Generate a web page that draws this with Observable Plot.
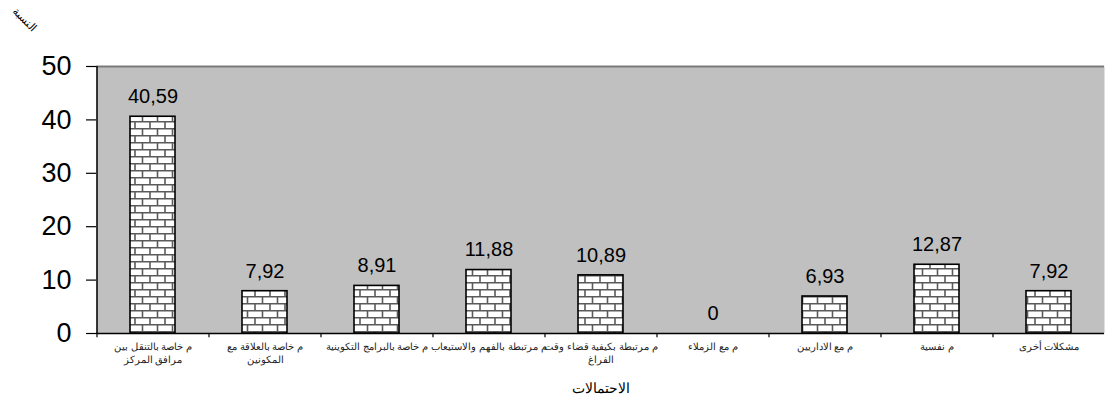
<!DOCTYPE html>
<html>
<head>
<meta charset="utf-8">
<script src="https://cdn.jsdelivr.net/npm/d3@7"></script>
<script src="https://cdn.jsdelivr.net/npm/@observablehq/plot@0.6"></script>
<style>
  html, body { margin: 0; padding: 0; background: white; }
  svg { display: block; }
</style>
</head>
<body>
<div id="chart"></div>
<script>
const categories = [
  "م خاصة بالتنقل بين\nمرافق المركز",
  "م خاصة بالعلاقة مع\nالمكونين",
  "م خاصة بالبرامج التكوينية",
  "م مرتبطة بالفهم والاستيعاب",
  "م مرتبطة بكيفية قضاء وقت\nالفراغ",
  "م مع الزملاء",
  "م مع الاداريين",
  "م نفسية",
  "مشكلات أخرى"
];
const values = [40.59, 7.92, 8.91, 11.88, 10.89, 0, 6.93, 12.87, 7.92];
const yTicks = [0, 10, 20, 30, 40, 50];
const xTitle = "الاحتمالات";
const yTitle = "النسبة";

const data = categories.map((c, i) => ({category: c, value: values[i]}));
const fmt = v => v === 0 ? "0" : v.toFixed(2).replace(".", ",");

const W = 1108, H = 409, ML = 96, MR = 4, MT = 66, MB = 76;
const step = (W - ML - MR) / categories.length;

const plot = Plot.plot({
  width: W, height: H,
  marginLeft: ML, marginRight: MR, marginTop: MT, marginBottom: MB,
  style: {fontFamily: "'Liberation Sans', Arial, sans-serif", background: "white", color: "black", overflow: "visible"},
  x: {domain: categories, paddingInner: 0.6, paddingOuter: 0.3, align: 0.5, axis: null},
  y: {domain: [0, 50], axis: null},
  marks: [
    Plot.frame({fill: "#c0c0c0", stroke: "none"}),
    Plot.ruleY([50], {stroke: "#7a7a7a", strokeWidth: 2}),
    Plot.barY(data, {x: "category", y: "value", fill: "url(#brick)", stroke: "black", strokeWidth: 1.6}),
    Plot.text(data, {x: "category", y: "value", text: d => fmt(d.value), dy: -20, fontSize: 20, fill: "black"}),
    Plot.ruleY([0], {stroke: "black", strokeWidth: 1.5}),
    Plot.ruleX([categories[0]], {x: d => d, dx: -step / 2, y1: 0, y2: 50, stroke: "black", strokeWidth: 1.5}),
    Plot.ruleX(categories, {x: d => d, dx: -step / 2, y1: 0, y2: -0.8, stroke: "black", strokeWidth: 1.2}),
    Plot.axisY(yTicks, {label: null, tickSize: 10, tickPadding: 15, fontSize: 27, tickFormat: d => String(d), stroke: "black", strokeWidth: 1.2}),
    Plot.text(data, {x: "category", text: "category", frameAnchor: "bottom", dy: 7, lineAnchor: "top", fontSize: 10, lineHeight: 1.3, fill: "#222"}),
    Plot.text([xTitle], {frameAnchor: "bottom", dy: 59, fontSize: 14, fill: "black"}),
    Plot.text([yTitle], {frameAnchor: "top-left", dx: -79, dy: -60, rotate: 45, fontSize: 11, fill: "black"})
  ]
});

const svg = d3.select(plot);
const defs = svg.insert("defs", ":first-child");
const pat = defs.append("pattern")
  .attr("id", "brick")
  .attr("patternUnits", "userSpaceOnUse")
  .attr("width", 15).attr("height", 14)
  .attr("y", 2);
pat.append("rect").attr("width", 15).attr("height", 14).attr("fill", "white");
pat.append("path")
  .attr("d", "M0 0.8H15 M0 7.8H15 M7.5 0.8V7.8 M0 7.8V14 M15 7.8V14")
  .attr("stroke", "#5a5a5a")
  .attr("stroke-width", 1.6)
  .attr("fill", "none");

document.getElementById("chart").appendChild(plot);
</script>
</body>
</html>
